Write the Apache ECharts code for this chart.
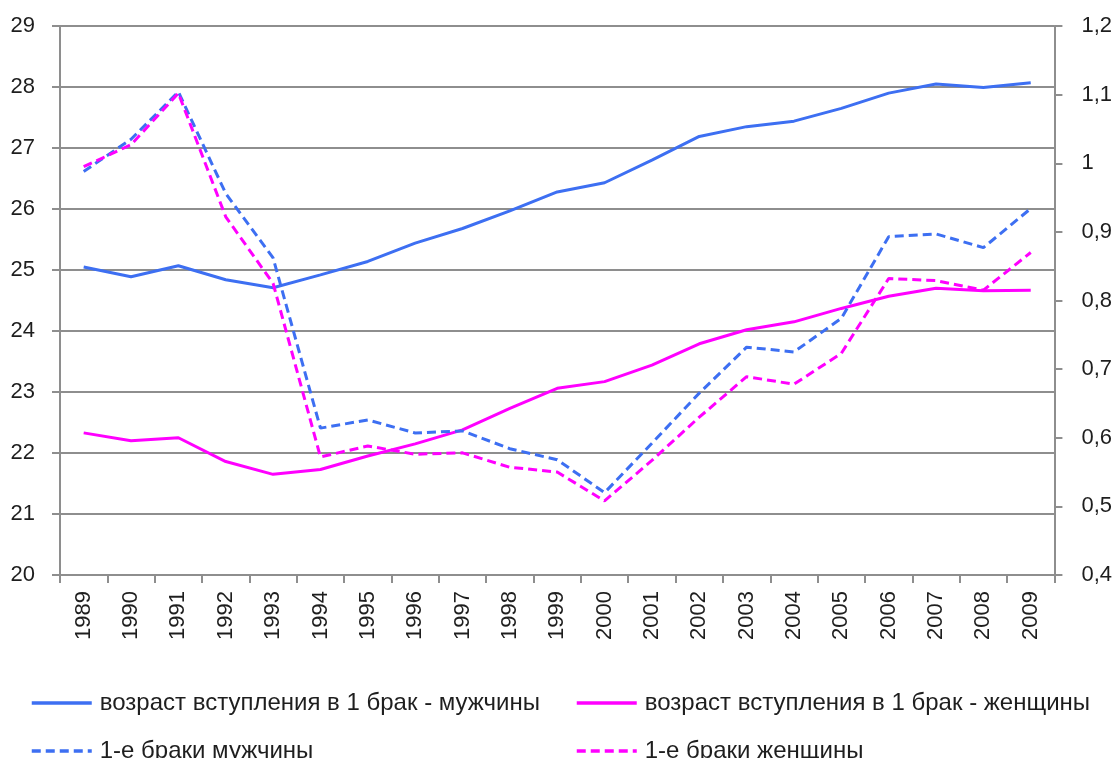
<!DOCTYPE html>
<html>
<head>
<meta charset="utf-8">
<script src="https://cdn.jsdelivr.net/npm/echarts@6/dist/echarts.min.js"></script>
<style>
  html, body { margin: 0; padding: 0; background: #fff; }
  #chart { width: 1115px; height: 758px; }
</style>
</head>
<body>
<div id="chart"></div>
<script>
// годы
const years = ['1989', '1990', '1991', '1992', '1993', '1994', '1995', '1996', '1997', '1998', '1999',
    '2000', '2001', '2002', '2003', '2004', '2005', '2006', '2007', '2008', '2009'];

// возраст вступления в 1 брак (левая ось)
const ageMen = [25.05, 24.89, 25.07, 24.84, 24.71, 24.92, 25.14, 25.44, 25.68, 25.97, 26.28,
    26.43, 26.80, 27.19, 27.35, 27.44, 27.65, 27.90, 28.05, 27.99, 28.07];
const ageWomen = [22.33, 22.20, 22.25, 21.86, 21.65, 21.73, 21.95, 22.15, 22.38, 22.73, 23.06,
    23.17, 23.44, 23.79, 24.02, 24.15, 24.37, 24.57, 24.70, 24.66, 24.67];

// 1-е браки (правая ось)
const firstMen = [0.988, 1.035, 1.104, 0.956, 0.862, 0.614, 0.626, 0.607, 0.610, 0.584, 0.568,
    0.520, 0.592, 0.665, 0.732, 0.725, 0.774, 0.893, 0.897, 0.877, 0.934];
const firstWomen = [0.995, 1.027, 1.102, 0.922, 0.825, 0.572, 0.588, 0.576, 0.578, 0.557, 0.550,
    0.508, 0.567, 0.630, 0.689, 0.678, 0.723, 0.832, 0.829, 0.815, 0.870];

const names = [
    'возраст вступления в 1 брак - мужчины',
    'возраст вступления в 1 брак - женщины',
    '1-е браки мужчины',
    '1-е браки женщины'
];

const blue = '#3d6ff2';
const pink = '#ff00ff';
const gridColor = '#8e8e8e';
const textColor = '#1e1e1e';
const font = 'Liberation Sans';

const chart = echarts.init(document.getElementById('chart'));

function line(name, data, color, dashed, axis) {
    return {
        name: name,
        type: 'line',
        yAxisIndex: axis,
        data: data,
        symbol: 'none',
        smooth: false,
        lineStyle: { color: color, width: 3, type: dashed ? [9, 5] : 'solid' },
        itemStyle: { color: color }
    };
}

// одна легенда на каждую серию, чтобы выровнять в две колонки
function legend(name, left, top) {
    return {
        data: [name],
        left: left,
        top: top,
        itemWidth: 60,
        itemHeight: 14,
        itemGap: 8,
        itemStyle: { opacity: 0 },
        lineStyle: { width: 3.5 },
        textStyle: { fontFamily: font, fontSize: 24, color: textColor, padding: [0, 0, 0, 3] }
    };
}

const option = {
    animation: false,
    grid: { left: 60, right: 60, top: 26, bottom: 183, containLabel: false },
    legend: [
        legend(names[0], 25, 686),
        legend(names[1], 570, 686),
        legend(names[2], 25, 734),
        legend(names[3], 570, 734)
    ],
    xAxis: {
        type: 'category',
        data: years,
        boundaryGap: true,
        axisLine: { lineStyle: { color: gridColor, width: 2 } },
        axisTick: { show: true, length: 8, lineStyle: { color: gridColor, width: 2 } },
        axisLabel: { rotate: 90, margin: 16, fontFamily: font, fontSize: 22, color: textColor }
    },
    yAxis: [
        {
            type: 'value',
            min: 20,
            max: 29,
            interval: 1,
            axisLine: { show: true, lineStyle: { color: gridColor, width: 2 } },
            axisTick: { show: true, length: 8, lineStyle: { color: gridColor, width: 2 } },
            splitLine: { lineStyle: { color: gridColor, width: 2 } },
            axisLabel: { margin: 25, fontFamily: font, fontSize: 22, color: textColor }
        },
        {
            type: 'value',
            min: 0.4,
            max: 1.2,
            interval: 0.1,
            position: 'right',
            axisLine: { show: true, lineStyle: { color: gridColor, width: 2 } },
            axisTick: { show: true, length: 8, lineStyle: { color: gridColor, width: 2 } },
            splitLine: { show: false },
            axisLabel: {
                margin: 27,
                fontFamily: font,
                fontSize: 22,
                color: textColor,
                formatter: function (v) {
                    return String(Math.round(v * 10) / 10).replace('.', ',');
                }
            }
        }
    ],
    series: [
        line(names[0], ageMen, blue, false, 0),
        line(names[1], ageWomen, pink, false, 0),
        line(names[2], firstMen, blue, true, 1),
        line(names[3], firstWomen, pink, true, 1)
    ]
};

chart.setOption(option);
</script>
</body>
</html>
